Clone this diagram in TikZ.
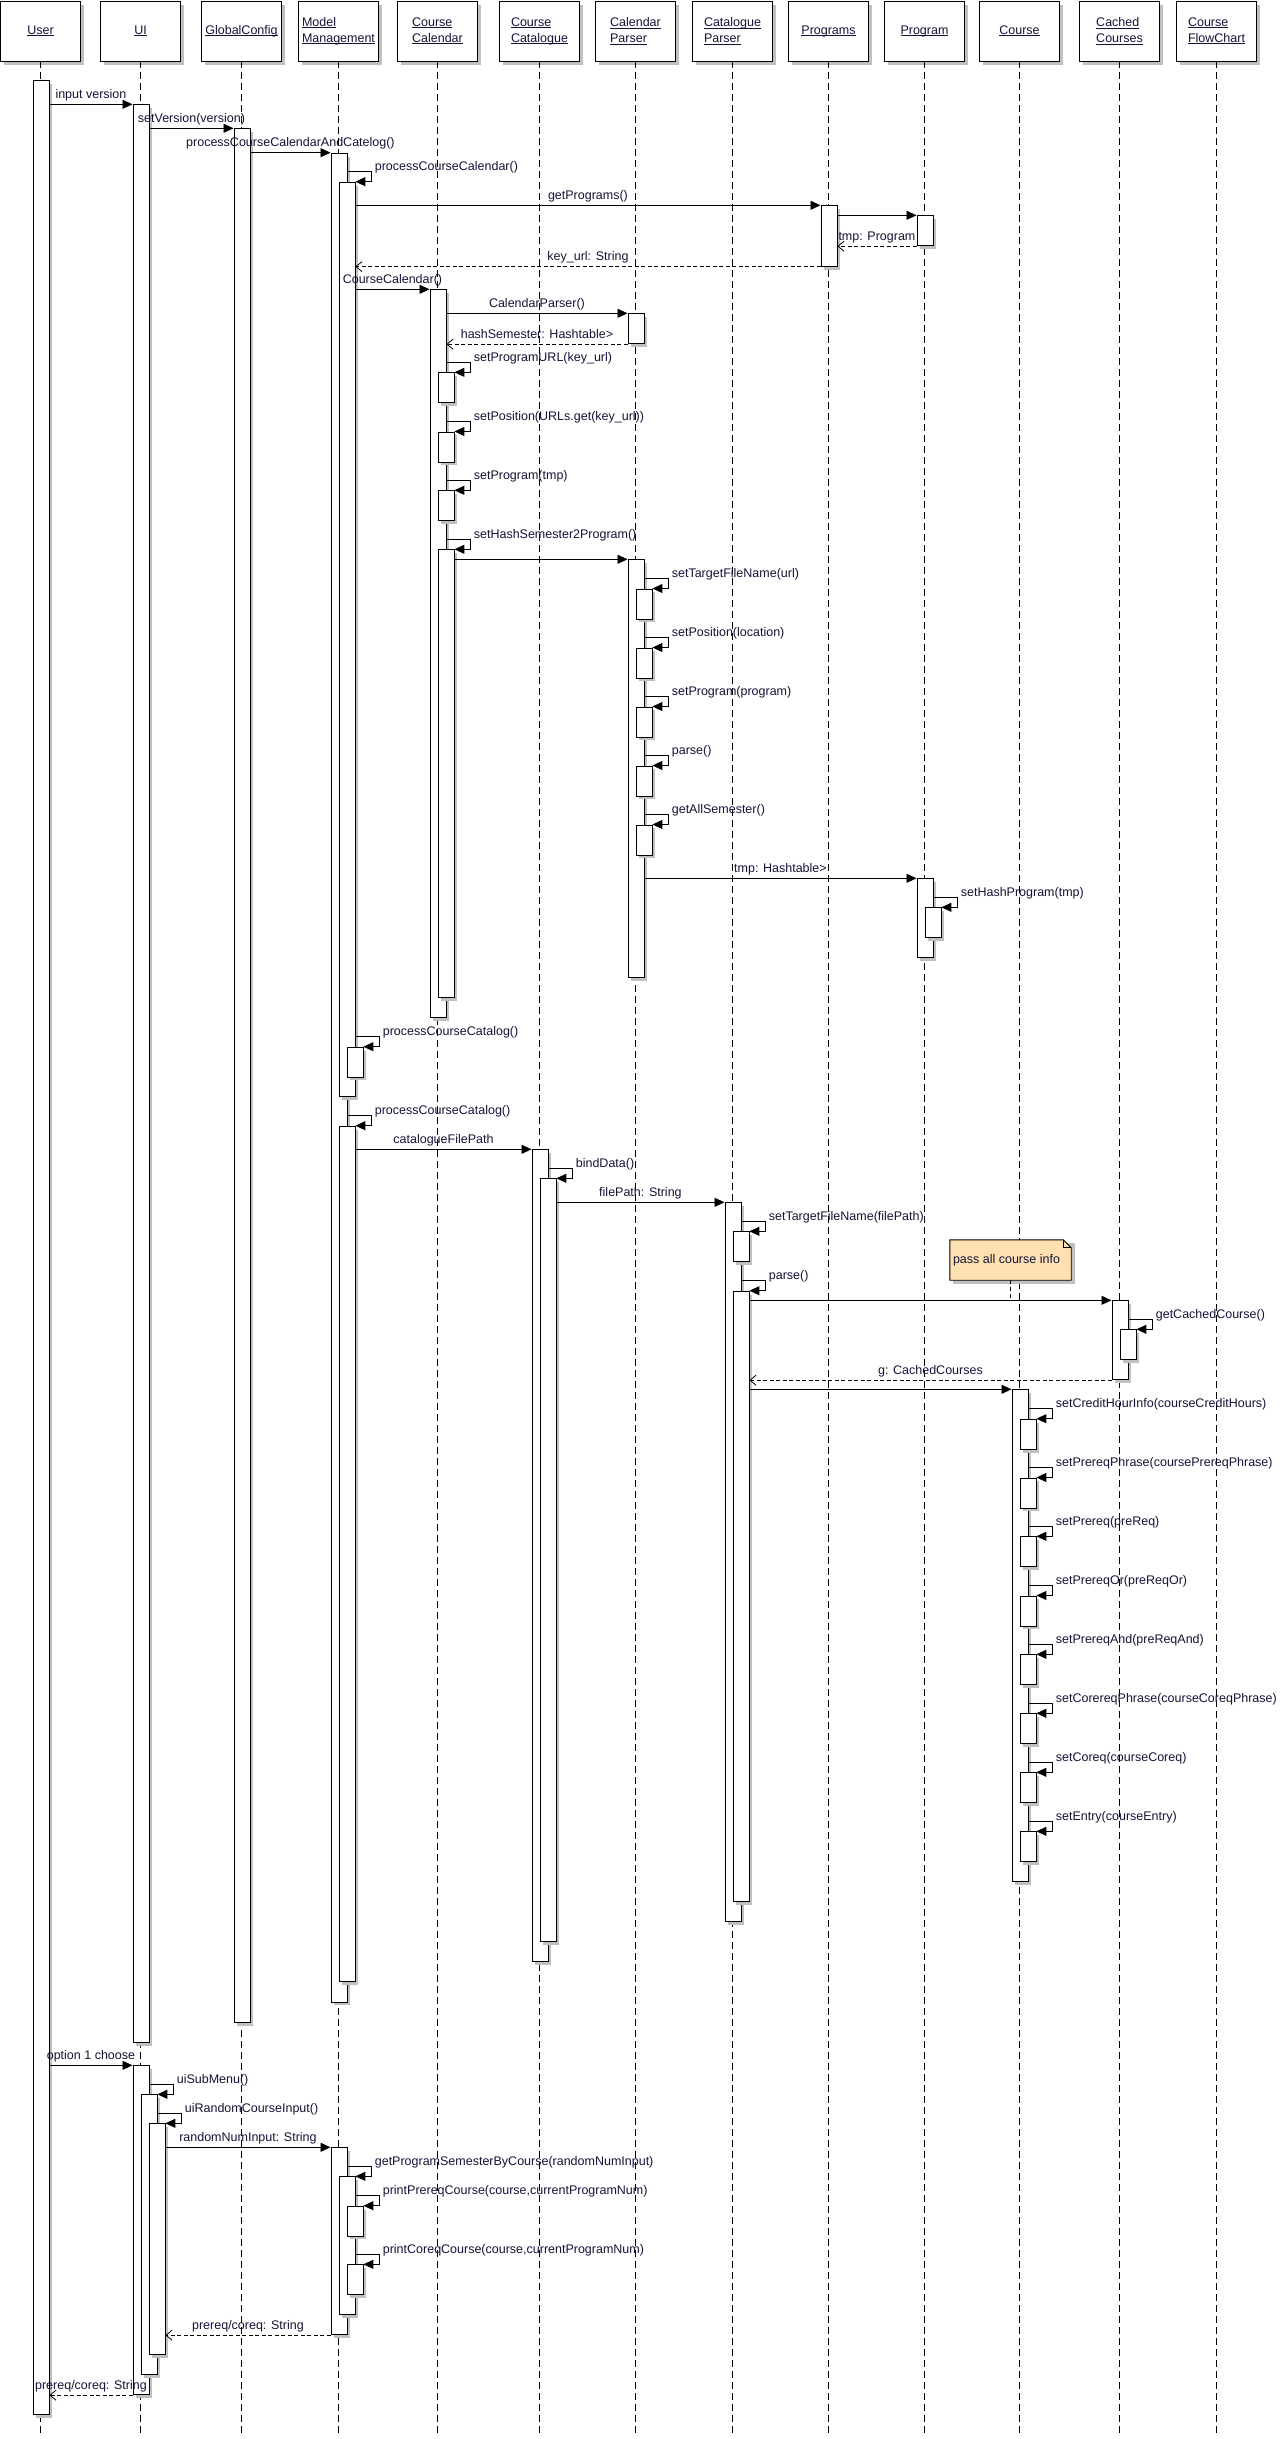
\documentclass[tikz,border=0pt]{standalone}
\usepackage{fontspec}
\setmainfont{Liberation Sans}
\usetikzlibrary{arrows.meta,shadows,calc}
\definecolor{shgray}{RGB}{192,192,192}
\definecolor{notefill}{RGB}{255,224,176}
\definecolor{txt}{RGB}{20,20,56}
\newcommand\lbl{\fontsize{12.5}{16}\selectfont}
\newcommand\ulx[1]{\setbox0\hbox{#1}\rlap{\rule[-1.8pt]{\wd0}{0.8pt}}\box0}
\newcommand\abar[4]{\pgfmathsetmacro\abarh{#4-#3}\node[actbar, minimum height=\abarh pt] (#1) at (#2,#3) {};}
\newcommand\selfmsg[3]{\draw[msg] let \p1=(#1.east), \p2=(#2.north east) in (\x1,\y2+10pt) -- (\x1+24pt,\y2+10pt) node[slab]{#3} -- (\x1+24pt,\y2) -- (\p2);}
\tikzset{
 hdr/.style={draw, fill=white, line width=0.9pt, minimum width=80pt, minimum height=60pt, inner sep=0pt, align=left, font=\lbl, text=txt, drop shadow={shadow xshift=3.5pt,shadow yshift=-3.5pt,fill=shgray,opacity=1}},
 actbar/.style={draw, fill=white, line width=0.9pt, minimum width=16pt, inner sep=0pt, anchor=north west, drop shadow={shadow xshift=3.5pt,shadow yshift=-3.5pt,fill=shgray,opacity=1}},
 life/.style={line width=0.8pt, dash pattern=on 7pt off 4pt},
 msg/.style={line width=0.9pt, -{Triangle[length=10pt,width=9pt]}},
 ret/.style={line width=0.8pt, dash pattern=on 4pt off 2.5pt, -{Straight Barb[length=6pt,width=10pt,line width=0.8pt]}},
 mlab/.style={font=\lbl, text=txt, inner sep=0pt, anchor=base, yshift=6pt},
 slab/.style={font=\lbl, text=txt, inner sep=0pt, anchor=base west, xshift=3pt, yshift=1pt},
 notebox/.style={minimum width=121pt, minimum height=40pt, inner sep=0pt},
}
\begin{document}
\begin{tikzpicture}[x=1pt,y=-1pt]
\fill[white] (0,0) rectangle (1281,2439);
\useasboundingbox (0,0) rectangle (1281,2439);
% headers
\node[hdr] (hUser) at (40.5,31) {\ulx{User}};
\node[hdr] (hUI) at (140.5,31) {\ulx{UI}};
\node[hdr] (hGC) at (241.5,31) {\ulx{GlobalConfig}};
\node[hdr] (hMM) at (338.5,31) {\ulx{Model}\\\ulx{Management}};
\node[hdr] (hCC) at (437.5,31) {\ulx{Course}\\\ulx{Calendar}};
\node[hdr] (hCCat) at (539.5,31) {\ulx{Course}\\\ulx{Catalogue}};
\node[hdr] (hCalP) at (635.5,31) {\ulx{Calendar}\\\ulx{Parser}};
\node[hdr] (hCatP) at (732.5,31) {\ulx{Catalogue}\\\ulx{Parser}};
\node[hdr] (hProgs) at (828.5,31) {\ulx{Programs}};
\node[hdr] (hProg) at (924.5,31) {\ulx{Program}};
\node[hdr] (hCourse) at (1019.5,31) {\ulx{Course}};
\node[hdr] (hCach) at (1119.5,31) {\ulx{Cached}\\\ulx{Courses}};
\node[hdr] (hCFC) at (1216.5,31) {\ulx{Course}\\\ulx{FlowChart}};
% lifelines
\coordinate (lifeEnd) at (0,2433);
\foreach \h in {hUser,hUI,hGC,hMM,hCC,hCCat,hCalP,hCatP,hProgs,hProg,hCourse,hCach,hCFC}
  \draw[life] (\h.south) -- (\h.south |- lifeEnd);
% level 0 bars
\abar{userA}{32.5}{80.3}{2414.3}
\abar{uiA}{132.5}{104.3}{2041.7}
\abar{gcA}{233.5}{128.3}{2021.7}
\abar{mmA}{330.5}{152.7}{2001.5}
\abar{progsA}{820.5}{205.3}{265.7}
\abar{progA}{916.5}{215.3}{245.3}
\abar{ccA}{429.5}{289.3}{1017}
\abar{calpA}{627.5}{313.3}{343.3}
\abar{calpB}{627.5}{559.3}{977.3}
\abar{progB}{916.5}{878.3}{957.3}
\abar{ccatA}{531.5}{1149.3}{1961.3}
\abar{catpA}{724.5}{1202.3}{1921.3}
\abar{cachA}{1111.5}{1300.3}{1379.3}
\abar{courseA}{1011.5}{1389.3}{1881}
\abar{uiB}{132.5}{2065.3}{2394.3}
\abar{mmE}{330.5}{2147.3}{2334.3}
% level 1 bars
\abar{mmB}{338.5}{181.7}{1096.3}
\abar{mmD}{338.5}{1125.7}{1981.3}
\abar{ccB1}{437.5}{372.3}{402.3}
\abar{ccB2}{437.5}{431.5}{461.5}
\abar{ccB3}{437.5}{490.3}{520.3}
\abar{ccB4}{437.5}{549.3}{997}
\abar{calpC1}{635.5}{588.5}{618.5}
\abar{calpC2}{635.5}{647.5}{677.5}
\abar{calpC3}{635.5}{706.5}{736.5}
\abar{calpC4}{635.5}{765.5}{795.5}
\abar{calpC5}{635.5}{824.5}{854.5}
\abar{progC}{924.5}{907.3}{937.3}
\abar{ccatB}{539.5}{1178.3}{1941.3}
\abar{catpB}{732.5}{1231.3}{1261.3}
\abar{catpC}{732.5}{1290.7}{1901.3}
\abar{cachB}{1119.5}{1329.3}{1359.3}
\abar{courseB1}{1019.5}{1418.7}{1448.7}
\abar{courseB2}{1019.5}{1477.5}{1507.5}
\abar{courseB3}{1019.5}{1536.3}{1566.3}
\abar{courseB4}{1019.5}{1595.5}{1625.5}
\abar{courseB5}{1019.5}{1654.3}{1684.3}
\abar{courseB6}{1019.5}{1713.3}{1743.3}
\abar{courseB7}{1019.5}{1772.3}{1802.3}
\abar{courseB8}{1019.5}{1831.3}{1861.3}
\abar{uiC}{140.5}{2094.3}{2374.3}
\abar{mmF}{338.5}{2176.3}{2314.3}
% level 2 bars
\abar{mmC}{346.5}{1046.7}{1076.5}
\abar{uiD}{148.5}{2123.3}{2354.3}
\abar{mmG1}{346.5}{2205.7}{2235.5}
\abar{mmG2}{346.5}{2264.3}{2294.3}
% note
\node[notebox] (note) at (1010.5,1260) {};
\fill[shgray] ($(note.north west)+(3.5,3.5)$) rectangle ($(note.south east)+(3.5,3.5)$);
\draw[fill=notefill, line width=0.9pt] (note.north west) -- ($(note.north east)+(-8,0)$) -- ($(note.north east)+(0,8)$) -- (note.south east) -- (note.south west) -- cycle;
\draw[line width=0.7pt] ($(note.north east)+(-8,0)$) -- ($(note.north east)+(-8,8)$) -- ($(note.north east)+(0,8)$);
\node[font=\lbl, text=txt, inner sep=0pt] (noteText) at ($(note.center)+(-4,0)$) {pass all course info};
\draw[life, dash pattern=on 4pt off 3pt] (note.south) -- (note.south |- cachA.north);
% messages
\draw[msg] (userA.east |- uiA.north) -- node[mlab]{input version} (uiA.north west);
\draw[msg] (uiA.east |- gcA.north) -- node[mlab]{setVersion(version)} (gcA.north west);
\draw[msg] (gcA.east |- mmA.north) -- node[mlab]{processCourseCalendarAndCatelog()} (mmA.north west);
\selfmsg{mmA}{mmB}{processCourseCalendar()}
\draw[msg] (mmB.east |- progsA.north) -- node[mlab]{getPrograms()} (progsA.north west);
\draw[msg] (progsA.east |- progA.north) -- (progA.north west);
\draw[ret] (progA.south west) -- node[mlab]{tmp: Program} (progsA.east |- progA.south);
\draw[ret] (progsA.south west) -- node[mlab]{key\_url: String} (mmB.east |- progsA.south);
\draw[msg] (mmB.east |- ccA.north) -- node[mlab]{CourseCalendar()} (ccA.north west);
\draw[msg] (ccA.east |- calpA.north) -- node[mlab]{CalendarParser()} (calpA.north west);
\draw[ret] (calpA.south west) -- node[mlab]{hashSemester: Hashtable>} (ccA.east |- calpA.south);
\selfmsg{ccA}{ccB1}{setProgramURL(key\_url)}
\selfmsg{ccA}{ccB2}{setPosition(URLs.get(key\_url))}
\selfmsg{ccA}{ccB3}{setProgram(tmp)}
\selfmsg{ccA}{ccB4}{setHashSemester2Program()}
\draw[msg] (ccB4.east |- calpB.north) -- (calpB.north west);
\selfmsg{calpB}{calpC1}{setTargetFileName(url)}
\selfmsg{calpB}{calpC2}{setPosition(location)}
\selfmsg{calpB}{calpC3}{setProgram(program)}
\selfmsg{calpB}{calpC4}{parse()}
\selfmsg{calpB}{calpC5}{getAllSemester()}
\draw[msg] (calpB.east |- progB.north) -- node[mlab]{tmp: Hashtable>} (progB.north west);
\selfmsg{progB}{progC}{setHashProgram(tmp)}
\selfmsg{mmB}{mmC}{processCourseCatalog()}
\selfmsg{mmA}{mmD}{processCourseCatalog()}
\draw[msg] (mmD.east |- ccatA.north) -- node[mlab]{catalogueFilePath} (ccatA.north west);
\selfmsg{ccatA}{ccatB}{bindData()}
\draw[msg] (ccatB.east |- catpA.north) -- node[mlab]{filePath: String} (catpA.north west);
\selfmsg{catpA}{catpB}{setTargetFileName(filePath)}
\selfmsg{catpA}{catpC}{parse()}
\draw[msg] (catpC.east |- cachA.north) -- (cachA.north west);
\selfmsg{cachA}{cachB}{getCachedCourse()}
\draw[ret] (cachA.south west) -- node[mlab]{g: CachedCourses} (catpC.east |- cachA.south);
\draw[msg] (catpC.east |- courseA.north) -- (courseA.north west);
\selfmsg{courseA}{courseB1}{setCreditHourInfo(courseCreditHours)}
\selfmsg{courseA}{courseB2}{setPrereqPhrase(coursePrereqPhrase)}
\selfmsg{courseA}{courseB3}{setPrereq(preReq)}
\selfmsg{courseA}{courseB4}{setPrereqOr(preReqOr)}
\selfmsg{courseA}{courseB5}{setPrereqAnd(preReqAnd)}
\selfmsg{courseA}{courseB6}{setCorereqPhrase(courseCoreqPhrase)}
\selfmsg{courseA}{courseB7}{setCoreq(courseCoreq)}
\selfmsg{courseA}{courseB8}{setEntry(courseEntry)}
\draw[msg] (userA.east |- uiB.north) -- node[mlab]{option 1 choose} (uiB.north west);
\selfmsg{uiB}{uiC}{uiSubMenu()}
\selfmsg{uiC}{uiD}{uiRandomCourseInput()}
\draw[msg] (uiD.east |- mmE.north) -- node[mlab]{randomNumInput: String} (mmE.north west);
\selfmsg{mmE}{mmF}{getProgramSemesterByCourse(randomNumInput)}
\selfmsg{mmF}{mmG1}{printPrereqCourse(course,currentProgramNum)}
\selfmsg{mmF}{mmG2}{printCoreqCourse(course,currentProgramNum)}
\draw[ret] (mmE.south west) -- node[mlab]{prereq/coreq: String} (uiD.east |- mmE.south);
\draw[ret] (uiB.south west) -- node[mlab]{prereq/coreq: String} (userA.east |- uiB.south);
\end{tikzpicture}
\end{document}
